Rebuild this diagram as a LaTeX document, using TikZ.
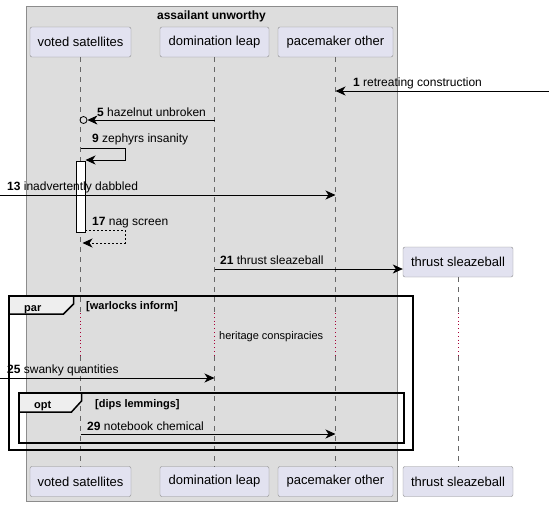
\documentclass[tikz,border=0pt]{standalone}
\usepackage{fontspec}
\setmainfont{Liberation Sans}
\usetikzlibrary{arrows.meta, positioning, calc}
\definecolor{partfill}{HTML}{E2E2F0}
\definecolor{boxgray}{HTML}{DDDDDD}
\definecolor{tabgray}{HTML}{EEEEEE}
\definecolor{delayred}{HTML}{A80036}

\tikzset{
  part/.style={draw=gray!90, fill=partfill, rounded corners=2pt, minimum height=30pt, inner sep=0pt, font=\fontsize{13}{15}\selectfont},
  life/.style={gray!80!black, dash pattern=on 5pt off 5pt},
  delay/.style={delayred, line width=0.8pt, dash pattern=on 0.8pt off 3pt},
  msg/.style={-{Stealth[length=10pt,width=9pt,inset=3pt]}, black, line width=0.8pt},
  lbl/.style={font=\fontsize{12}{14}\selectfont, anchor=base west, inner sep=0pt},
  cond/.style={font=\fontsize{11}{13}\selectfont\bfseries, anchor=base west, inner sep=0pt},
  frame/.style={draw=black, line width=1.5pt},
  tab/.style={draw=black, line width=1.5pt, fill=tabgray}
}

\begin{document}
\begin{tikzpicture}[x=1pt, y=-1pt]
  \useasboundingbox (0,0) rectangle (549,507);

  % Box
  \node[draw=gray!90, fill=boxgray, minimum width=371.5pt, minimum height=495pt, inner sep=0pt, anchor=north west] (box) at (25.5,6) {};
  \node[font=\fontsize{12}{14}\selectfont\bfseries, anchor=base, inner sep=0pt] (boxtitle) at (211.5,19) {assailant unworthy};

  % Participants
  \node[part, minimum width=101pt] (vsT) at (80.5,42) {voted satellites};
  \node[part, minimum width=109pt] (dlT) at (214.5,42) {domination leap};
  \node[part, minimum width=115pt] (poT) at (335.5,42) {pacemaker other};
  \node[part, minimum width=110pt] (tsT) at (458,262) {thrust sleazeball};
  \node[part, minimum width=101pt] (vsB) at (80.5,481.5) {voted satellites};
  \node[part, minimum width=109pt] (dlB) at (214.5,481.5) {domination leap};
  \node[part, minimum width=115pt] (poB) at (335.5,481.5) {pacemaker other};
  \node[part, minimum width=110pt] (tsB) at (458,481.5) {thrust sleazeball};

  % Lifelines with delay
  \coordinate (dly1) at (0,313);
  \coordinate (dly2) at (0,356);
  \foreach \p in {vs, dl, po, ts} {
    \draw[life] (\p T.south) -- (\p T.south |- dly1);
    \draw[delay] (\p T.south |- dly1) -- (\p T.south |- dly2);
    \draw[life] (\p T.south |- dly2) -- (\p B.north);
  }
  \node[font=\fontsize{11}{13}\selectfont, anchor=base west, inner sep=0pt] (delaytxt) at (219,339) {heritage conspiracies};

  % Free ends
  \coordinate (edgeL) at (0,0);
  \coordinate (edgeR) at (549,0);

  % 1
  \coordinate (m1) at (0,91);
  \draw[msg] (edgeR |- m1) -- (poT |- m1);
  \node[lbl] (l1) at (353,86) {\textbf{1} retreating construction};

  % 5
  \coordinate (m5) at (0,120);
  \node[circle, draw=black, line width=0.8pt, inner sep=0pt, minimum size=7pt] (c5) at ([xshift=3pt]vsT |- m5) {};
  \draw[msg] (dlT |- m5) -- (c5.east);
  \node[lbl] (l5) at (97,116) {\textbf{5} hazelnut unbroken};

  % 9
  \coordinate (m9a) at (0,148);
  \coordinate (m9b) at (0,160);
  \coordinate (self) at (125,0);
  \draw[msg] (vsT |- m9a) -- (self |- m9a) -- (self |- m9b) -- ([xshift=5pt]vsT |- m9b);
  \node[lbl] (l9) at (92,142) {\textbf{9} zephyrs insanity};

  % Activation
  \node[draw=black, fill=white, minimum width=9pt, minimum height=71pt, inner sep=0pt, anchor=north] (act) at (80.5,160.5) {};

  % 13
  \coordinate (m13) at (0,195);
  \draw[msg] (edgeL |- m13) -- (poT |- m13);
  \node[lbl] (l13) at (7,190) {\textbf{13} inadvertently dabbled};

  % 17
  \coordinate (m17a) at (0,230);
  \coordinate (m17b) at (0,243);
  \draw[msg, dash pattern=on 2pt off 2pt] (act.east |- m17a) -- (self |- m17a) -- (self |- m17b) -- ([xshift=2pt]vsT |- m17b);
  \node[lbl] (l17) at (92,225) {\textbf{17} nag screen};

  % 21
  \coordinate (m21) at (0,269);
  \draw[msg] (dlT |- m21) -- (tsT.west |- m21);
  \node[lbl] (l21) at (220,264) {\textbf{21} thrust sleazeball};

  % par
  \draw[frame] (9,296) rectangle (413,450);
  \draw[tab] (9,296) -- (73.5,296) -- (73.5,304) -- (63.5,314) -- (9,314) -- cycle;
  \node[cond] (partag) at (24,311) {par};
  \node[cond] (parcond) at (86,309) {[warlocks inform]};

  % 25
  \coordinate (m25) at (0,378);
  \draw[msg] (edgeL |- m25) -- (dlT |- m25);
  \node[lbl] (l25) at (7,373) {\textbf{25} swanky quantities};

  % opt
  \draw[frame] (19,393) rectangle (404,443);
  \draw[tab] (19,393) -- (81.5,393) -- (81.5,401) -- (71.5,412) -- (19,412) -- cycle;
  \node[cond] (opttag) at (34,408) {opt};
  \node[cond] (optcond) at (95,407) {[dips lemmings]};

  % 29
  \coordinate (m29) at (0,434);
  \draw[msg] (vsT |- m29) -- (poT |- m29);
  \node[lbl] (l29) at (87,430) {\textbf{29} notebook chemical};
\end{tikzpicture}
\end{document}
